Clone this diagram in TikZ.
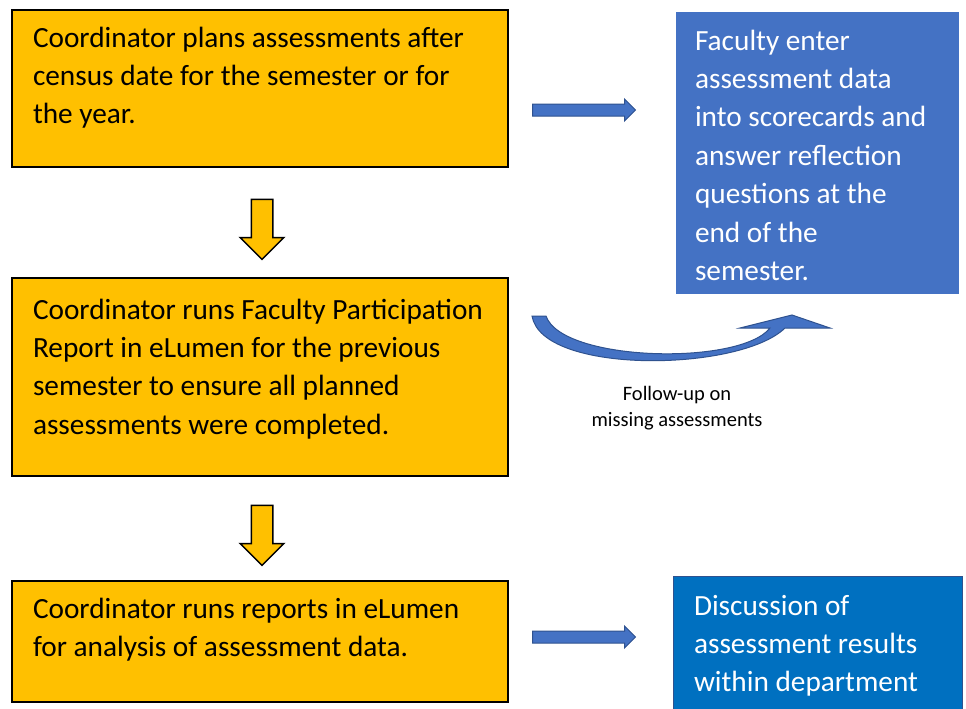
\documentclass[tikz,border=0pt]{standalone}
\usepackage{fontspec}
\setmainfont{Carlito}
\usetikzlibrary{arrows.meta,positioning,shapes.arrows,calc}
\definecolor{colorStep}{HTML}{FFC000}
\definecolor{colorFac}{HTML}{4472C4}
\definecolor{colorDisc}{HTML}{0070C0}
\definecolor{colorEdge}{HTML}{2F528F}

\begin{document}
\begin{tikzpicture}[x=1pt,y=-1pt,every node/.append style={align=left,inner sep=0pt,outer sep=0pt},
    stepbox/.style={draw, line width=2.2pt, fill=colorStep, minimum width=496, anchor=north west},
    facbox/.style={fill=colorFac, anchor=north west},
    discbox/.style={fill=colorDisc, draw=colorEdge, line width=0.8pt, anchor=north west},
    boxtext/.style={anchor=base west, font=\fontsize{29.3}{38.4}\selectfont},
    whitetext/.style={boxtext, text=white},
    rarrow/.style={single arrow, draw=colorEdge, line width=1pt, fill=colorFac, minimum height=103, inner ysep=5.5pt, single arrow head extend=5pt},
    darrow/.style={single arrow, draw, line width=1.5pt, fill=colorStep, shape border rotate=270, minimum height=60, inner xsep=10pt, single arrow head extend=11pt},
    note/.style={align=center, font=\fontsize{20.5}{26}\selectfont}]
    \useasboundingbox (0,0) rectangle (966,709);
    \node [stepbox, minimum height=157] (S1) at (12,10) {};
    \node [stepbox, minimum height=198] (S2) at (12,278) {};
    \node [stepbox, minimum height=121] (S3) at (12,581) {};
    \node [facbox, minimum width=283, minimum height=282] (F) at (676,12) {};
    \node [discbox, minimum width=289, minimum height=140] (D) at (673,576) {};
    \node [boxtext] (T1) at ($(S1.north west)+(21,113.8)$) {Coordinator plans assessments after\\census date for the semester or for\\the year.};
    \node [boxtext] (T2) at ($(S2.north west)+(21,156.2)$) {Coordinator runs Faculty Participation\\Report in eLumen for the previous\\semester to ensure all planned\\assessments were completed.};
    \node [boxtext] (T3) at ($(S3.north west)+(21,75.4)$) {Coordinator runs reports in eLumen\\for analysis of assessment data.};
    \node [whitetext] (TF) at ($(F.north west)+(19,268.4)$) {Faculty enter\\assessment data\\into scorecards and\\answer reflection\\questions at the\\end of the\\semester.};
    \node [whitetext] (TD) at ($(D.north west)+(21,115.8)$) {Discussion of\\assessment results\\within department};
    \node [rarrow] (A1) at (581,110) {};
    \node [rarrow] (A2) at (581,637) {};
    \node [darrow] (A3) at (262,224) {};
    \node [darrow] (A4) at (262,530) {};
    \path [draw=colorEdge, line width=1pt, fill=colorFac] (532,316) .. controls (542,375) and (740,372) .. (785,328) -- (830,328) -- (792,315) -- (740,328) -- (770,328) .. controls (740,366) and (562,362) .. (546,316) -- cycle;
    \node [note] (N) at (677,408) {Follow-up on\\missing assessments};
\end{tikzpicture}
\end{document}
